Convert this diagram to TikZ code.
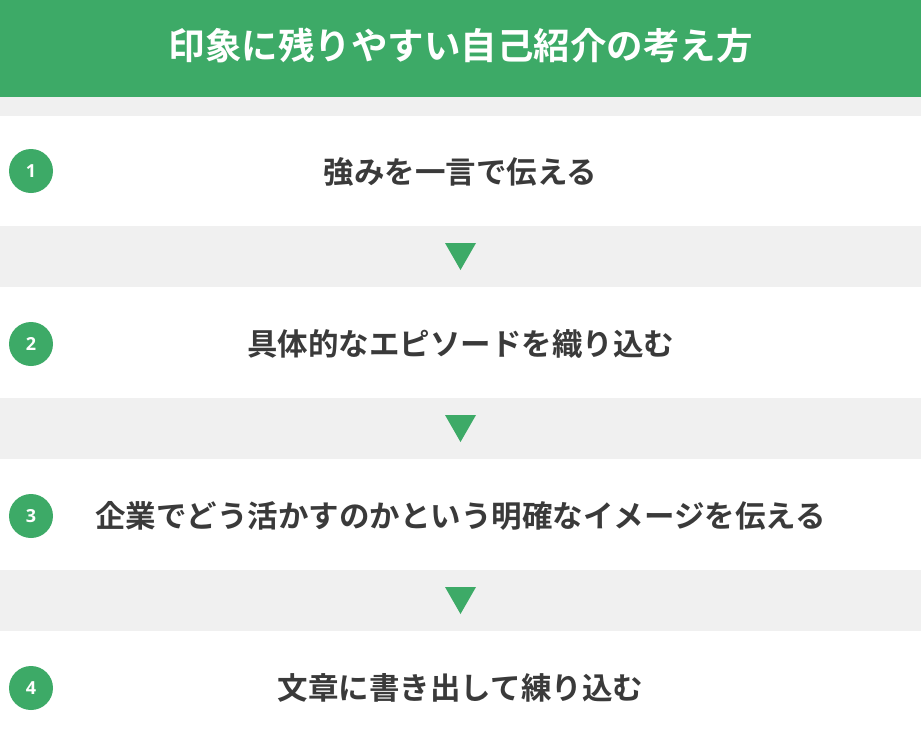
\documentclass[tikz,border=0pt]{standalone}
\usepackage{fontspec}
\setmainfont{Noto Sans CJK JP}
\newfontfamily\jpb{Noto Sans CJK JP Bold}
\newfontfamily\numf{Open Sans Bold}
\definecolor{hdrgreen}{HTML}{3DAA67}
\definecolor{bandgray}{HTML}{F0F0F0}
\definecolor{txtgray}{HTML}{3A3A3A}
\tikzset{
  px/.style={x=1pt,y=-1pt},
  numcirc/.style={circle,fill=hdrgreen,minimum size=44pt,inner sep=0pt,text=white,font=\numf\fontsize{18}{18}\selectfont},
  steptext/.style={text=txtgray,font=\jpb\fontsize{30.5}{30.5}\selectfont,inner sep=0pt,anchor=center},
  downarrow/.style={fill=hdrgreen,draw=none}
}
\begin{document}
\begin{tikzpicture}[px]
\useasboundingbox (0,0) rectangle (921,729);
\fill[white] (0,0) rectangle (921,729);
\fill[hdrgreen] (0,0) rectangle (921,97);
\node[text=white,font=\jpb\fontsize{36.5}{36.5}\selectfont,inner sep=0pt] (title) at (460.5,46) {印象に残りやすい自己紹介の考え方};
\fill[bandgray] (0,97) rectangle (921,116);
\fill[bandgray] (0,226) rectangle (921,287);
\fill[bandgray] (0,398) rectangle (921,459);
\fill[bandgray] (0,570) rectangle (921,631);
% arrows
\fill[downarrow] (445,243) -- (476,243) -- (460.5,270) -- cycle;
\fill[downarrow] (445,415) -- (476,415) -- (460.5,442) -- cycle;
\fill[downarrow] (445,587) -- (476,587) -- (460.5,614) -- cycle;
% steps
\node[numcirc] (c1) at (31,171) {1};
\node[numcirc] (c2) at (31,344) {2};
\node[numcirc] (c3) at (31,516) {3};
\node[numcirc] (c4) at (31,688) {4};
\node[steptext] (s1) at (460.5,172) {強みを一言で伝える};
\node[steptext] (s2) at (460.5,344) {具体的なエピソードを織り込む};
\node[steptext] (s3) at (460.5,516) {企業でどう活かすのかという明確なイメージを伝える};
\node[steptext] (s4) at (460.5,688) {文章に書き出して練り込む};
\end{tikzpicture}
\end{document}
